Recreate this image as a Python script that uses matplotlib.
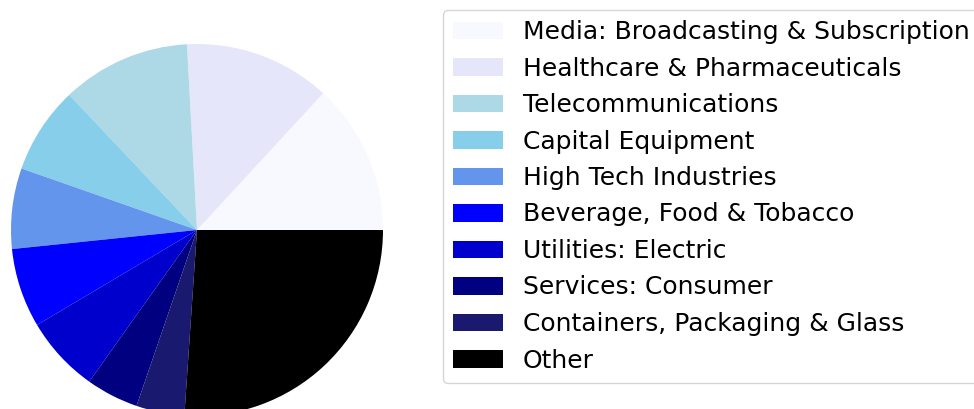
import matplotlib
matplotlib.use("Agg")
import matplotlib.pyplot as plt

categories = ["Media: Broadcasting & Subscription", "Healthcare & Pharmaceuticals",
              "Telecommunications", "Capital Equipment", "High Tech Industries",
              "Beverage, Food & Tobacco", "Utilities: Electric", "Services: Consumer",
              "Containers, Packaging & Glass", "Other"]
values = [13.14, 12.72, 11.19, 7.58, 7.00, 6.89, 6.64, 4.56, 4.19, 26.08]
colors = ["ghostwhite", "lavender", "lightblue", "skyblue", "cornflowerblue",
          "blue", "mediumblue", "navy", "midnightblue", "black"]

W, H = 974, 409
fig = plt.figure(figsize=(W / 100, H / 100), dpi=100)
cx, cy, r = 197, 230, 186
ax = fig.add_axes([(cx - r) / W, (H - cy - r) / H, 2 * r / W, 2 * r / H])
wedges, _ = ax.pie(values, colors=colors, startangle=0, counterclock=True)
ax.set_xlim(-1, 1)
ax.set_ylim(-1, 1)
ax.set_aspect("equal")
ax.axis("off")

fig.legend(wedges, categories, loc="upper left", bbox_to_anchor=(443 / W, 1 - 10 / H),
           borderaxespad=0, fontsize=18, labelspacing=0.5, frameon=True)

fig.savefig("out.png", dpi=100)
